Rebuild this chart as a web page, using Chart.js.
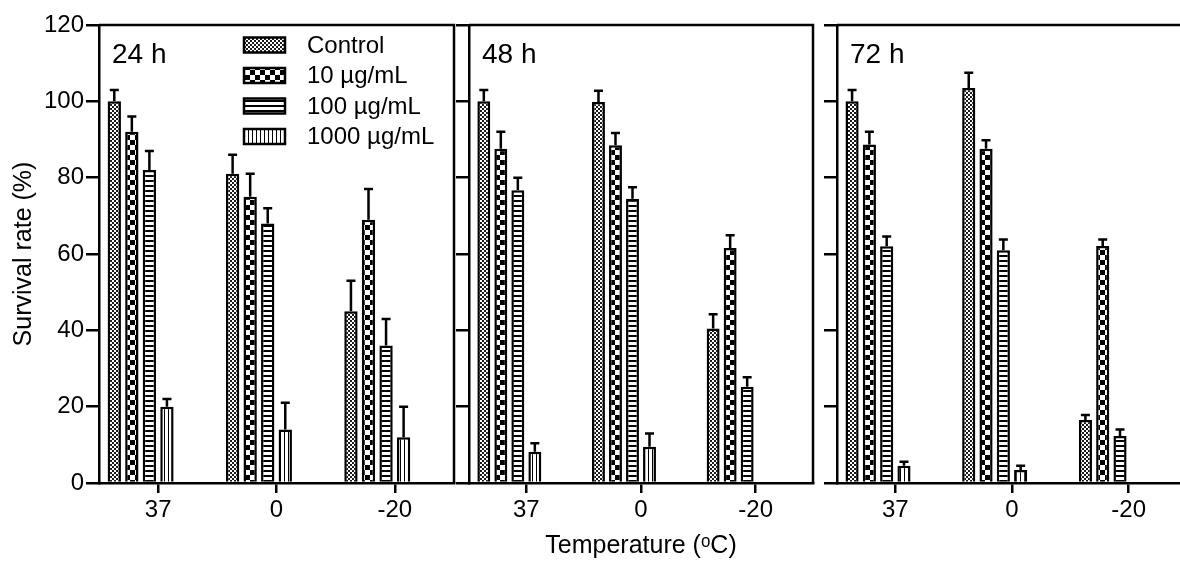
<!DOCTYPE html>
<html>
<head>
<meta charset="utf-8">
<script src="https://cdn.jsdelivr.net/npm/chart.js@4.4.0/dist/chart.umd.min.js"></script>
<style>
html, body { margin: 0; padding: 0; background: #fff; overflow: hidden; }
#wrap { position: relative; width: 1180px; height: 561px; overflow: hidden; background: #fff; }
#wrap canvas { position: absolute; left: 0; top: 0; }
</style>
</head>
<body>
<div id="wrap">
  <canvas id="p1" width="1180" height="561"></canvas>
  <canvas id="p2" width="1180" height="561"></canvas>
  <canvas id="p3" width="1200" height="561"></canvas>
</div>
<script>
// categories and series
var temperatures = ['37', '0', '-20'];
var seriesNames = ['Control', '10 µg/mL', '100 µg/mL', '1000 µg/mL'];
var panelLabels = ['24 h', '48 h', '72 h'];

// survival rate (%), one row per series: [37, 0, -20]
var h24Values = [[100, 81, 45], [92, 75, 69], [82, 68, 36], [20, 14, 12]];
var h24Errors = [[3, 5, 8], [4, 6, 8], [5, 4, 7], [2, 7, 8]];

var h48Values = [[100, 99.8, 40.5], [87.6, 88.5, 61.6], [76.7, 74.5, 25.2], [8.2, 9.5, null]];
var h48Errors = [[3, 3, 3.7], [4.4, 3.2, 3.3], [3.3, 3, 2.5], [2.2, 3.5, null]];

var h72Values = [[100, 103.5, 16.5], [88.7, 87.6, 62.1], [62, 61, 12.3], [4.5, 3.4, null]];
var h72Errors = [[3, 4, 1.3], [3.3, 2.2, 1.7], [2.6, 2.8, 1.7], [1.1, 1.1, null]];

// y axis
var yMin = 0, yMax = 120, yStep = 20;

// layout of the three panels (plot area edges in px)
var panelLeft = [99, 469, 837];
var panelRight = [454, 813, 1187];
var plotTop = 25, plotBottom = 483;

var FONT = "'Liberation Sans', Arial, sans-serif";
Chart.defaults.font.family = FONT;
Chart.defaults.color = '#000';

// fill patterns for the bars
function makePattern(w, h, draw) {
    var c = document.createElement('canvas');
    c.width = w; c.height = h;
    var g = c.getContext('2d');
    g.fillStyle = '#fff';
    g.fillRect(0, 0, w, h);
    g.fillStyle = '#000';
    draw(g);
    return g.createPattern(c, 'repeat');
}

var patterns = [
    makePattern(4, 4, function (g) {
        g.fillStyle = '#1a1a1a';
        g.fillRect(0, 0, 4, 4);
        g.fillStyle = '#fff';
        g.fillRect(0, 0, 2, 2);
        g.fillRect(2, 2, 2, 2);
    }),
    makePattern(10, 10, function (g) {
        g.fillRect(0, 0, 5, 5);
        g.fillRect(5, 5, 5, 5);
    }),
    makePattern(4, 5, function (g) {
        g.fillRect(0, 0, 4, 2);
    }),
    makePattern(4, 4, function (g) {
        g.fillRect(0, 0, 1, 4);
    })
];

// error bars (upper only, with cap)
var errorBars = {
    id: 'errorBars',
    afterDatasetsDraw: function (chart) {
        var ctx = chart.ctx;
        var y = chart.scales.y;
        ctx.save();
        ctx.strokeStyle = '#000';
        ctx.lineWidth = 2.5;
        chart.data.datasets.forEach(function (ds, i) {
            if (!ds.errors) return;
            chart.getDatasetMeta(i).data.forEach(function (bar, j) {
                var v = ds.data[j], e = ds.errors[j];
                if (v == null || e == null) return;
                var top = y.getPixelForValue(v + e);
                ctx.beginPath();
                ctx.moveTo(bar.x, bar.y);
                ctx.lineTo(bar.x, top);
                ctx.moveTo(bar.x - 4.5, top);
                ctx.lineTo(bar.x + 4.5, top);
                ctx.stroke();
            });
        });
        ctx.restore();
    }
};

// frame (top + right), panel label and legend
var panelDecor = {
    id: 'panelDecor',
    afterDraw: function (chart, args, opts) {
        var ctx = chart.ctx;
        var a = chart.chartArea;
        ctx.save();
        ctx.strokeStyle = '#000';
        ctx.lineWidth = 2.5;
        ctx.beginPath();
        ctx.moveTo(a.left, a.top);
        ctx.lineTo(a.right, a.top);
        ctx.lineTo(a.right, a.bottom);
        ctx.stroke();

        ctx.fillStyle = '#000';
        ctx.font = '28px ' + FONT;
        ctx.textBaseline = 'alphabetic';
        ctx.textAlign = 'left';
        ctx.fillText(opts.label, a.left + 13, a.top + 38);

        if (opts.legend) {
            ctx.font = '24px ' + FONT;
            ctx.textBaseline = 'middle';
            ctx.lineWidth = 2.5;
            var items = chart.data.datasets.filter(function (d) { return !d.spacer; });
            items.forEach(function (d, i) {
                var cy = a.top + 20 + i * 30.5;
                var bx = a.left + 145;
                ctx.fillStyle = d.backgroundColor;
                ctx.fillRect(bx, cy - 7.5, 41, 15);
                ctx.strokeRect(bx, cy - 7.5, 41, 15);
                ctx.fillStyle = '#000';
                ctx.fillText(d.label, a.left + 208, cy + 1);
            });
        }
        ctx.restore();
    }
};

function buildPanel(k, canvasId, values, errors) {
    var canvas = document.getElementById(canvasId);
    var datasets = seriesNames.map(function (name, s) {
        return {
            label: name,
            data: values[s],
            errors: errors[s],
            backgroundColor: patterns[s],
            borderColor: '#000',
            borderWidth: 2.5,
            borderSkipped: 'bottom'
        };
    });
    // two empty slots so each group sits left of its tick, as in the figure
    for (var n = 0; n < 2; n++) {
        datasets.push({ label: '', spacer: true, data: temperatures.map(function () { return null; }), backgroundColor: 'rgba(0,0,0,0)', borderWidth: 0 });
    }

    return new Chart(canvas.getContext('2d'), {
        type: 'bar',
        data: { labels: temperatures, datasets: datasets },
        options: {
            responsive: false,
            animation: false,
            events: [],
            layout: { padding: { top: plotTop, right: canvas.width - panelRight[k], left: 0, bottom: 0 } },
            datasets: { bar: { categoryPercentage: 0.89, barPercentage: 0.76 } },
            plugins: {
                legend: { display: false },
                tooltip: { enabled: false },
                panelDecor: { label: panelLabels[k], legend: k === 0 }
            },
            scales: {
                x: {
                    grid: { offset: false, drawOnChartArea: false, tickLength: 10, lineWidth: 2.5, color: '#000' },
                    border: { width: 2.5, color: '#000' },
                    ticks: { font: { size: 24 }, padding: 3, color: '#000' },
                    title: {
                        display: k === 1,
                        text: 'Temperature (ᵒC)',
                        font: { size: 25 },
                        padding: { top: 0, bottom: 0 },
                        color: '#000'
                    },
                    afterFit: function (s) { s.height = canvas.height - plotBottom; }
                },
                y: {
                    min: yMin,
                    max: yMax,
                    grid: { drawOnChartArea: false, tickLength: 13, lineWidth: 2.5, color: '#000' },
                    border: { width: 2.5, color: '#000' },
                    ticks: { stepSize: yStep, display: k === 0, font: { size: 24 }, padding: 2, color: '#000' },
                    title: {
                        display: k === 0,
                        text: 'Survival rate (%)',
                        font: { size: 25 },
                        padding: { top: 9, bottom: 0 },
                        color: '#000'
                    },
                    afterFit: function (s) { s.width = panelLeft[k]; }
                }
            }
        },
        plugins: [errorBars, panelDecor]
    });
}

buildPanel(0, 'p1', h24Values, h24Errors);
buildPanel(1, 'p2', h48Values, h48Errors);
buildPanel(2, 'p3', h72Values, h72Errors);
</script>
</body>
</html>
